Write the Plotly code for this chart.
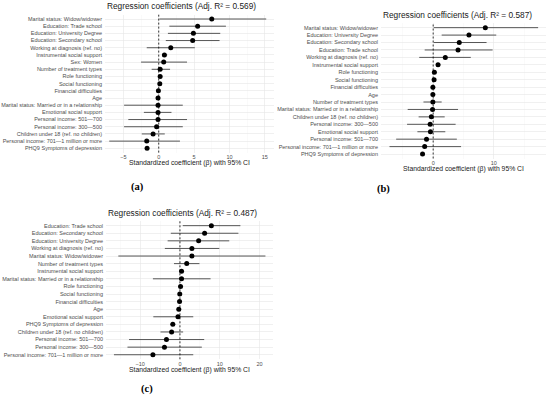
import plotly.graph_objects as go

# ---------------- data ----------------
labels_a = ["Marital status: Widow/widower", "Education: Trade school", "Education: University Degree",
            "Education: Secondary school", "Working at diagnosis (ref. no)", "Instrumental social support",
            "Sex: Women", "Number of treatment types", "Role functioning", "Social functioning",
            "Financial difficulties", "Age", "Marital status: Married or in a relationship",
            "Emotional social support", "Personal income: 501\u2014700", "Personal income: 300\u2014500",
            "Children under 18 (ref. no children)", "Personal income: 701\u20141 million or more",
            "PHQ9 Symptoms of depression"]
est_a = [7.5, 5.5, 4.9, 4.8, 1.7, 0.8, 0.7, 0.2, 0.2, 0.15, -0.05, -0.1, -0.1, -0.1, -0.1, -0.3, -0.8, -1.7, -1.65]
lo_a = [0.1, 1.5, 1.3, 1.0, -1.7, 0.5, -2.5, -1.0, 0.05, 0.0, -0.2, -0.2, -4.9, -2.1, -4.3, -4.9, -2.4, -7.0, -1.8]
hi_a = [15.2, 9.5, 8.7, 8.6, 5.1, 1.2, 4.0, 1.6, 0.35, 0.3, 0.1, 0.0, 3.4, 1.8, 4.0, 3.4, 0.85, 3.0, -1.5]

labels_b = ["Marital status: Widow/widower", "Education: University Degree", "Education: Secondary school",
            "Education: Trade school", "Working at diagnosis (ref. no)", "Instrumental social support",
            "Role functioning", "Social functioning", "Financial difficulties", "Age",
            "Number of treatment types", "Marital status: Married or in a relationship",
            "Children under 18 (ref. no children)", "Personal income: 300\u2014500", "Emotional social support",
            "Personal income: 501\u2014700", "Personal income: 701\u20141 million or more",
            "PHQ9 Symptoms of depression"]
est_b = [8.6, 5.9, 4.3, 4.1, 2.0, 0.8, 0.2, 0.15, -0.05, -0.05, -0.05, -0.1, -0.3, -0.5, -0.45, -1.1, -1.4, -1.75]
lo_b = [0.1, 1.4, 0.1, -1.4, -2.3, 0.5, 0.05, 0.0, -0.2, -0.15, -1.6, -4.2, -2.4, -4.3, -2.6, -6.1, -7.2, -1.95]
hi_b = [17.3, 10.4, 8.8, 9.8, 6.2, 1.2, 0.35, 0.3, 0.1, 0.05, 1.4, 4.1, 1.9, 3.7, 2.0, 3.9, 4.6, -1.55]

labels_c = ["Education: Trade school", "Education: Secondary school", "Education: University Degree",
            "Working at diagnosis (ref. no)", "Marital status: Widow/widower", "Number of treatment types",
            "Instrumental social support", "Marital status: Married or in a relationship", "Role functioning",
            "Social functioning", "Financial difficulties", "Age", "Emotional social support",
            "PHQ9 Symptoms of depression", "Children under 18 (ref. no children)",
            "Personal income: 501\u2014700", "Personal income: 300\u2014500",
            "Personal income: 701\u20141 million or more"]
est_c = [7.9, 6.2, 4.7, 3.0, 3.0, 1.7, 0.4, 0.4, 0.15, -0.05, -0.1, -0.3, -0.5, -1.8, -2.1, -3.4, -3.9, -6.8]
lo_c = [0.7, -2.3, -3.1, -3.8, -15.5, -1.5, -0.1, -6.8, -0.1, -0.3, -0.3, -0.5, -6.7, -2.4, -4.9, -12.8, -13.2, -16.6]
hi_c = [15.2, 14.7, 12.4, 9.9, 21.5, 4.9, 0.9, 7.7, 0.4, 0.2, 0.1, -0.1, 3.35, -1.2, 0.8, 6.1, 5.5, 3.35]

titles = ["Regression coefficients (Adj. R\u00b2 = 0.569)",
          "Regression coefficients (Adj. R\u00b2 = 0.587)",
          "Regression coefficients (Adj. R\u00b2 = 0.487)"]
captions = ["(a)", "(b)", "(c)"]
axis_title = "Standardized coefficient (\u03b2) with 95% CI"

# ---------------- layout geometry (pixels) ----------------
W, H = 550, 396
panels = [
    dict(labels=labels_a, est=est_a, lo=lo_a, hi=hi_a, px=(105, 274), py=(14.7, 152.6),
         xr=(-7.6, 16.3), dtick=5, minor=2.5, cap=(137, 187)),
    dict(labels=labels_b, est=est_b, lo=lo_b, hi=hi_b, px=(381, 546), py=(23.2, 158.5),
         xr=(-8.6, 18.6), dtick=10, minor=5, cap=(383, 189)),
    dict(labels=labels_c, est=est_c, lo=lo_c, hi=hi_c, px=(106, 273), py=(221.1, 359.3),
         xr=(-18.6, 23.4), dtick=10, minor=5, cap=(147, 388.5)),
]

FONT = "Liberation Sans, Arial, sans-serif"
fig = go.Figure()
annotations = []
shapes = []

for i, p in enumerate(panels):
    n = i + 1
    xa = "x" if n == 1 else f"x{n}"
    ya = "y" if n == 1 else f"y{n}"
    err_plus = [h - e for h, e in zip(p["hi"], p["est"])]
    err_minus = [e - l for e, l in zip(p["est"], p["lo"])]
    fig.add_trace(go.Scatter(
        x=p["est"], y=p["labels"], mode="markers",
        marker=dict(color="black", size=5),
        error_x=dict(type="data", symmetric=False, array=err_plus, arrayminus=err_minus,
                     width=0, thickness=1, color="#555555"),
        xaxis=xa, yaxis=ya, showlegend=False, cliponaxis=False))

    xd = [p["px"][0] / W, p["px"][1] / W]
    yd = [1 - p["py"][1] / H, 1 - p["py"][0] / H]
    nlab = len(p["labels"])
    fig.layout[f"xaxis{'' if n == 1 else n}"] = dict(
        domain=xd, anchor=ya, range=list(p["xr"]), dtick=p["dtick"], tick0=0, automargin=False,
        showgrid=True, gridcolor="#e6e6e6", gridwidth=0.6, zeroline=False, showline=False,
        ticks="", tickfont=dict(size=5.5, color="#4d4d4d", family=FONT),
        minor=dict(dtick=p["minor"], tick0=0, showgrid=True, gridcolor="#f2f2f2", gridwidth=0.4),
    )
    fig.layout[f"yaxis{'' if n == 1 else n}"] = dict(
        domain=yd, anchor=xa, type="category", categoryorder="array", automargin=False,
        categoryarray=list(reversed(p["labels"])), range=[-0.6, nlab - 0.4],
        showgrid=True, gridcolor="#e6e6e6", gridwidth=0.6, zeroline=False, showline=False,
        ticks="", ticklabelstandoff=2, tickfont=dict(size=5.5, color="#4d4d4d", family=FONT),
    )
    # dashed zero reference line
    shapes.append(dict(type="line", xref=xa, yref=f"{ya} domain", x0=0, x1=0, y0=0, y1=1,
                       line=dict(color="black", width=0.8, dash="2px,2px")))
    # panel title (left aligned to panel)
    annotations.append(dict(text=titles[i], xref="paper", yref="paper",
                            x=p["px"][0] / W, y=1 - (p["py"][0] - 1.5) / H,
                            xanchor="left", yanchor="bottom", showarrow=False,
                            font=dict(size=8.3, color="#1a1a1a", family=FONT)))
    # x axis title
    annotations.append(dict(text=axis_title, xref="paper", yref="paper",
                            x=(p["px"][0] + p["px"][1]) / 2 / W, y=1 - (p["py"][1] + 10.5) / H,
                            xanchor="center", yanchor="middle", showarrow=False,
                            font=dict(size=6.8, color="#1a1a1a", family=FONT)))
    # caption
    annotations.append(dict(text=f"<b>{captions[i]}</b>", xref="paper", yref="paper",
                            x=p["cap"][0] / W, y=1 - p["cap"][1] / H,
                            xanchor="center", yanchor="middle", showarrow=False,
                            font=dict(size=10.5, color="black", family="Liberation Serif, Times New Roman, serif")))

fig.update_layout(width=W, height=H, margin=dict(l=0, r=0, t=0, b=0, pad=0),
                  template="none", paper_bgcolor="white", plot_bgcolor="white",
                  annotations=annotations, shapes=shapes)
fig.write_html("out.html", config={"displayModeBar": False, "staticPlot": True},
               post_script="document.body.style.margin='0';document.body.style.padding='0';"
                           "document.body.style.overflow='hidden';")
